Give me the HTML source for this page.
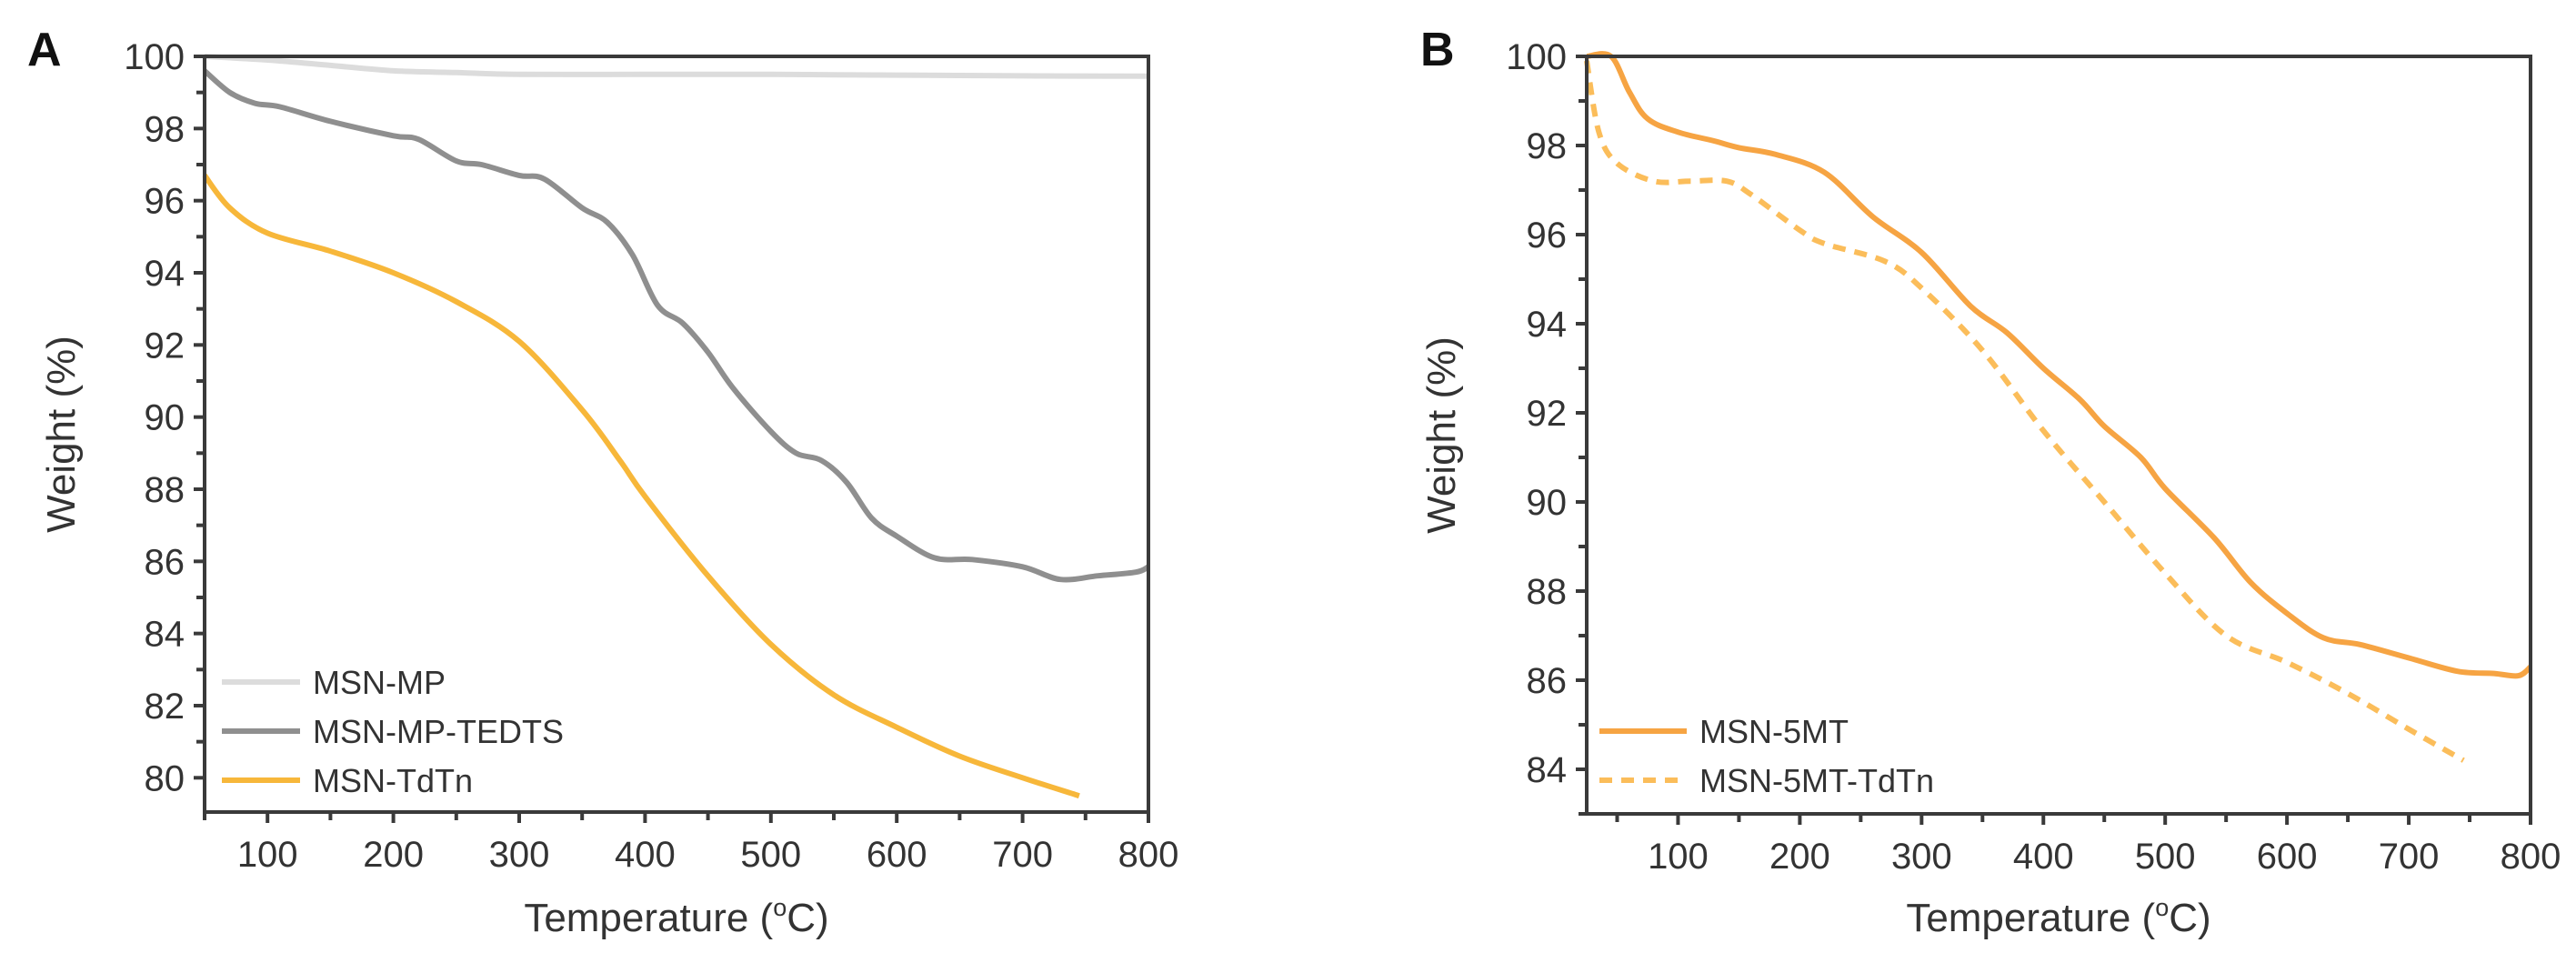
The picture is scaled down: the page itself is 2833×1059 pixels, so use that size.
<!DOCTYPE html>
<html><head><meta charset="utf-8"><style>
html,body{margin:0;padding:0;background:#fff;}
svg{display:block;font-family:"Liberation Sans",Arial,sans-serif;}
</style></head><body>
<svg id="fig" width="2833" height="1059" viewBox="0 0 2833 1059"></svg>
<script>
const NS="http://www.w3.org/2000/svg";
// Panel A data
const aMpT=[50,100,150,200,250,300,400,500,600,700,800];
const aMpW=[100,99.9,99.75,99.6,99.55,99.5,99.5,99.5,99.48,99.46,99.45];
const aTedT=[50,70,90,110,150,200,220,250,270,300,320,350,370,390,410,430,450,470,500,520,540,560,580,600,630,660,700,730,760,790,800];
const aTedW=[99.6,99.0,98.7,98.6,98.2,97.8,97.7,97.1,97.0,96.7,96.6,95.8,95.4,94.5,93.1,92.6,91.8,90.8,89.6,89.0,88.8,88.2,87.2,86.7,86.1,86.05,85.85,85.5,85.6,85.7,85.85];
const aTdT=[50,70,100,150,200,250,300,350,380,400,450,500,550,600,650,700,745];
const aTdW=[96.7,95.8,95.1,94.6,94.0,93.2,92.1,90.2,88.8,87.8,85.6,83.7,82.3,81.4,80.6,80.0,79.5];
const aXTicks=[100,200,300,400,500,600,700,800];
const aYTicks=[80,82,84,86,88,90,92,94,96,98,100];
// Panel B data
const b5T=[25,45,60,75,100,130,150,180,220,260,300,340,370,400,430,450,480,500,540,570,600,630,660,700,740,770,790,800];
const b5W=[100,100,99.2,98.6,98.3,98.1,97.95,97.8,97.4,96.4,95.6,94.4,93.8,93.0,92.3,91.7,91.0,90.3,89.2,88.2,87.5,86.95,86.8,86.5,86.2,86.15,86.1,86.3];
const bTdT=[25,35,50,80,110,140,160,200,220,270,300,350,400,450,500,550,600,650,700,745];
const bTdW=[99.9,98.3,97.6,97.2,97.2,97.2,96.9,96.1,95.8,95.4,94.8,93.4,91.6,90.0,88.4,87.0,86.4,85.7,84.9,84.2];
const bXTicks=[100,200,300,400,500,600,700,800];
const bYTicks=[84,86,88,90,92,94,96,98,100];

const svg=document.getElementById('fig');
function mk(tag,attrs,parent){const e=document.createElementNS(NS,tag);for(const k in attrs)e.setAttribute(k,attrs[k]);(parent||svg).appendChild(e);return e;}
function smooth(pts){let d='M'+pts[0][0].toFixed(1)+','+pts[0][1].toFixed(1);
 for(let i=0;i<pts.length-1;i++){const p0=pts[Math.max(0,i-1)],p1=pts[i],p2=pts[i+1],p3=pts[Math.min(pts.length-1,i+2)];
 const c1=[p1[0]+(p2[0]-p0[0])/6,p1[1]+(p2[1]-p0[1])/6],c2=[p2[0]-(p3[0]-p1[0])/6,p2[1]-(p3[1]-p1[1])/6];
 d+=' C'+c1[0].toFixed(1)+','+c1[1].toFixed(1)+' '+c2[0].toFixed(1)+','+c2[1].toFixed(1)+' '+p2[0].toFixed(1)+','+p2[1].toFixed(1);}return d;}

function panel(cfg){
 const g=mk('g',{});
 
 
 const sx=v=>cfg.x0+(v-cfg.xmin)/(cfg.xmax-cfg.xmin)*(cfg.x1-cfg.x0);
 const sy=v=>cfg.y1-(v-cfg.ymin)/(cfg.ymax-cfg.ymin)*(cfg.y1-cfg.y0);
 cfg.series.forEach(s=>{
  const pts=s.t.map((t,i)=>[sx(t),sy(s.w[i])]);
  const p=mk('path',{d:smooth(pts),fill:'none',stroke:s.color,'stroke-width':6,'stroke-linejoin':'round','stroke-dasharray':s.dash||'none'},g);
  
  
 });
 const fr=mk('rect',{x:cfg.x0,y:cfg.y0,width:cfg.x1-cfg.x0,height:cfg.y1-cfg.y0,fill:'none',stroke:'#3a3a3a','stroke-width':4},g);
 
 
 const xt=mk('g',{},g);
 
 
 for(let v=Math.ceil(cfg.xmin/50)*50;v<=cfg.xmax;v+=50){
  const x=sx(v);mk('line',{x1:x,x2:x,y1:cfg.y1,y2:cfg.y1+(v%100===0?12:9),stroke:'#3a3a3a','stroke-width':4},xt);}
 cfg.xticks.forEach(v=>{const t=mk('text',{x:sx(v),y:cfg.y1+60,'text-anchor':'middle','font-size':40,fill:'#333'},xt);t.textContent=v;
  
  });
 const yt=mk('g',{},g);
 
 
 for(let v=Math.ceil(cfg.ymin);v<=cfg.ymax;v+=1){
  const y=sy(v);mk('line',{x1:cfg.x0,x2:cfg.x0-(v%2===0?12:9),y1:y,y2:y,stroke:'#3a3a3a','stroke-width':4},yt);}
 cfg.yticks.forEach(v=>{const t=mk('text',{x:cfg.x0-22,y:sy(v)+14,'text-anchor':'end','font-size':40,fill:'#333'},yt);t.textContent=v;
  
  });
 const xtt=mk('text',{x:(cfg.x0+cfg.x1)/2,y:1024,'text-anchor':'middle','font-size':44,fill:'#333'},g);
 xtt.innerHTML='Temperature (<tspan font-size="27" dy="-17">o</tspan><tspan dy="17">C)</tspan>';
 
 
 const ytt=mk('text',{x:0,y:0,'text-anchor':'middle','font-size':44,fill:'#333',transform:`translate(${cfg.ytx},${(cfg.y0+cfg.y1)/2}) rotate(-90)`},g);
 ytt.textContent='Weight (%)';
 
 
 const lt=mk('text',{x:cfg.lx,y:72,'font-size':52,'font-weight':'bold',fill:'#111'},g);
 lt.textContent=cfg.letter;
 
 
 const lg=mk('g',{},g);
 
 
 cfg.series.forEach((s,i)=>{
  const y=cfg.legY[i];
  const e=mk('g',{},lg);
  
  
  mk('line',{x1:cfg.legX,x2:cfg.legX+cfg.legW,y1:y,y2:y,stroke:s.color,'stroke-width':6,'stroke-dasharray':s.dash||'none'},e);
  const t=mk('text',{x:cfg.legX+cfg.legW+14,y:y+13,'font-size':36,fill:'#333'},e);t.textContent=s.label;
 });
}
panel({name:'panel-a',letter:'A',lx:30,x0:225,x1:1263,y0:62,y1:893,xmin:50,xmax:800,ymin:79.05,ymax:100,ytx:82,
 xticks:aXTicks,yticks:aYTicks,legX:244,legW:86,legY:[750,804,858],
 series:[{id:'msn-mp-line',label:'MSN-MP',t:aMpT,w:aMpW,color:'#dcdcdc'},
         {id:'msn-mp-tedts-line',label:'MSN-MP-TEDTS',t:aTedT,w:aTedW,color:'#8f8f8f'},
         {id:'msn-tdtn-line',label:'MSN-TdTn',t:aTdT,w:aTdW,color:'#f7b73a'}]});
panel({name:'panel-b',letter:'B',lx:1562,x0:1745,x1:2783,y0:62,y1:895,xmin:25,xmax:800,ymin:83,ymax:100,ytx:1600,
 xticks:bXTicks,yticks:bYTicks,legX:1759,legW:96,legY:[804,858],
 series:[{id:'msn-5mt-line',label:'MSN-5MT',t:b5T,w:b5W,color:'#f6a443'},
         {id:'msn-5mt-tdtn-line',label:'MSN-5MT-TdTn',t:bTdT,w:bTdW,color:'#fbbd5a',dash:'14,10'}]});
</script>
</body></html>
